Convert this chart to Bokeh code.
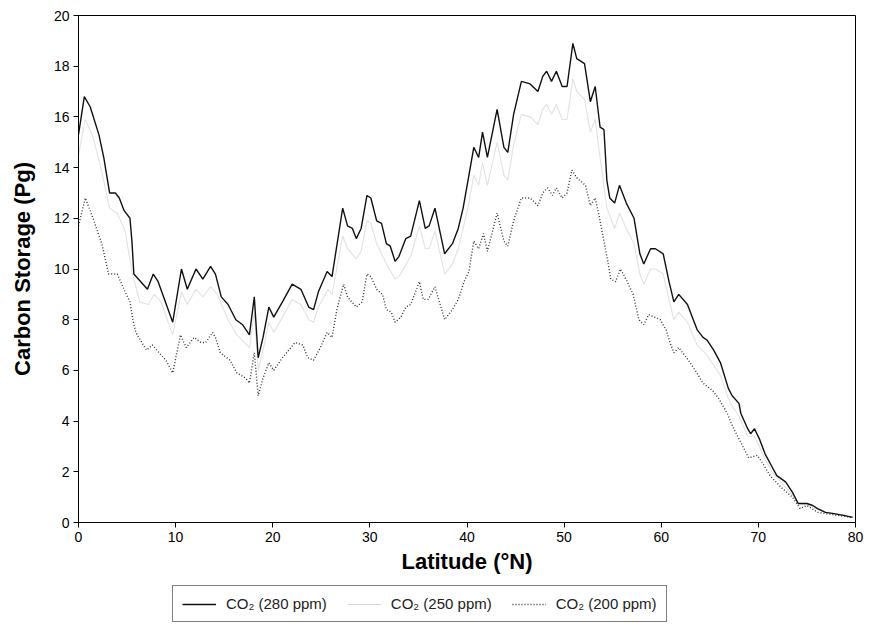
from bokeh.plotting import figure
from bokeh.models import Range1d, FixedTicker, Legend, LegendItem
from bokeh.layouts import column
from bokeh.embed import file_html
from bokeh.resources import INLINE

lat_280 = [0, 0.6, 1.2, 2.1, 2.6, 3.2, 3.8, 4.2, 4.7, 5.3, 5.5, 5.7, 7.1, 7.7, 8.2, 9.7, 10.6, 11.2, 12.1, 12.8,
           13.6, 14.1, 14.7, 15.4, 16.2, 16.9, 17.6, 18.1, 18.5, 19.0, 19.6, 20.1, 21.0, 22.0, 22.9, 23.7, 24.2, 24.7, 25.6, 26.1,
           27.2, 27.7, 28.2, 28.6, 29.1, 29.7, 30.1, 30.7, 31.2, 31.7, 32.1, 32.6, 33.0, 33.7, 34.2, 35.1, 35.7, 36.1, 36.7, 37.7,
           38.5, 39.1, 39.6, 40.2, 40.7, 41.2, 41.6, 42.1, 43.1, 43.8, 44.2, 44.8, 45.6, 46.5, 47.3, 47.8, 48.2, 48.7, 49.2, 49.8,
           50.3, 50.9, 51.3, 52.1, 52.7, 53.2, 53.7, 54.1, 54.4, 54.7, 55.2, 55.7, 56.4, 57.2, 57.8, 58.2, 58.9, 59.4, 60.2, 60.8,
           61.3, 61.8, 62.7, 63.3, 63.7, 64.3, 64.7, 65.4, 66.1, 66.9, 67.3, 68.0, 68.2, 68.9, 69.2, 69.6, 70.1, 70.7, 71.4, 71.9,
           72.8, 73.5, 74.1, 75.0, 75.6, 76.1, 76.9, 77.8, 78.8, 79.7]
c280 = [15.3, 16.8, 16.4, 15.3, 14.4, 13.0, 13.0, 12.8, 12.3, 12.0, 11.1, 9.8, 9.2, 9.8, 9.5, 7.9, 10.0, 9.2, 10.0, 9.6,
        10.1, 9.8, 8.9, 8.6, 8.0, 7.8, 7.4, 8.9, 6.5, 7.3, 8.5, 8.1, 8.7, 9.4, 9.2, 8.5, 8.4, 9.1, 9.9, 9.7,
        12.4, 11.7, 11.6, 11.2, 11.6, 12.9, 12.8, 11.9, 11.8, 11.0, 10.9, 10.3, 10.5, 11.2, 11.3, 12.7, 11.6, 11.7, 12.4, 10.6,
        11.0, 11.6, 12.4, 13.7, 14.8, 14.4, 15.4, 14.4, 16.3, 14.8, 14.6, 16.1, 17.4, 17.3, 17.0, 17.6, 17.8, 17.4, 17.8, 17.2,
        17.2, 18.9, 18.3, 18.1, 16.6, 17.2, 15.6, 15.5, 13.5, 12.8, 12.6, 13.3, 12.6, 12.0, 10.6, 10.2, 10.8, 10.8, 10.6, 9.5,
        8.7, 9.0, 8.6, 8.0, 7.6, 7.3, 7.2, 6.8, 6.3, 5.3, 5.0, 4.7, 4.3, 3.7, 3.5, 3.7, 3.3, 2.7, 2.2, 1.85,
        1.6, 1.2, 0.75, 0.75, 0.67, 0.55, 0.4, 0.35, 0.28, 0.2]

lat_250 = [0, 0.7, 1.5, 2.3, 3.2, 4.0, 4.8, 5.5, 6.3, 7.2, 7.8, 8.5, 9.7, 10.6, 11.2, 12.1, 12.8, 13.6, 14.3, 15.4,
           16.3, 17.6, 18.1, 18.5, 19.0, 19.6, 20.1, 21.0, 22.0, 22.9, 23.7, 24.2, 24.7, 25.7, 26.1, 27.2, 27.7, 28.6, 29.1, 29.7,
           30.1, 30.7, 31.7, 32.6, 33.0, 34.2, 35.1, 35.7, 36.1, 36.7, 37.7, 38.5, 39.1, 39.6, 40.2, 40.7, 41.2, 41.6, 42.1, 43.1,
           43.8, 44.2, 44.8, 45.6, 46.5, 47.3, 47.8, 48.2, 48.7, 49.2, 49.8, 50.3, 50.9, 51.3, 52.1, 52.7, 53.2, 53.7, 54.4, 55.2,
           55.7, 56.4, 57.2, 57.8, 58.2, 58.9, 59.4, 60.2, 60.8, 61.3, 61.8, 62.7, 63.7, 64.7, 65.4, 66.1, 66.9, 67.3, 68.0, 68.9,
           69.6, 70.1, 70.7, 71.4, 72.3, 73.5, 74.1, 75.0, 76.1, 77.8, 79.7]
c250 = [14.5, 15.9, 15.2, 14.0, 12.4, 12.2, 11.5, 9.9, 8.7, 8.6, 9.0, 8.7, 7.4, 9.1, 8.6, 9.2, 8.9, 9.3, 9.0, 8.0,
        7.4, 6.9, 8.3, 6.0, 6.8, 7.9, 7.5, 8.1, 8.8, 8.6, 8.0, 7.9, 8.5, 9.2, 9.0, 11.3, 10.8, 10.4, 10.7, 11.9,
        11.8, 11.0, 10.2, 9.6, 9.7, 10.5, 11.7, 10.8, 10.8, 11.5, 9.8, 10.2, 10.8, 11.6, 12.6, 13.7, 13.3, 14.2, 13.3, 15.0,
        13.7, 13.5, 14.9, 16.1, 16.0, 15.7, 16.3, 16.5, 16.1, 16.5, 15.9, 15.9, 17.5, 17.0, 16.7, 15.4, 15.9, 14.4, 12.4, 11.6,
        12.2, 11.6, 11.0, 9.8, 9.4, 10.0, 10.0, 9.8, 8.8, 8.0, 8.3, 7.9, 7.0, 6.6, 6.2, 5.8, 4.9, 4.6, 4.2, 3.4,
        3.4, 3.0, 2.5, 2.0, 1.6, 1.1, 0.7, 0.7, 0.5, 0.33, 0.2]

lat_200 = [0, 0.7, 1.5, 2.4, 3.1, 4.0, 4.8, 5.3, 5.6, 5.9, 6.2, 7.0, 7.6, 8.3, 9.0, 9.7, 10.5, 11.1, 11.9, 12.6,
           13.1, 13.8, 14.1, 14.6, 15.6, 16.3, 17.2, 17.6, 18.1, 18.5, 19.0, 19.6, 20.1, 21.0, 22.3, 23.1, 23.6, 24.2, 24.9, 25.6,
           26.1, 26.6, 27.3, 27.7, 28.6, 29.2, 29.7, 30.1, 30.7, 31.3, 31.7, 32.2, 32.6, 33.2, 33.7, 34.2, 35.1, 35.5, 36.0, 36.7,
           37.7, 38.5, 39.1, 39.7, 40.2, 40.7, 41.2, 41.7, 42.1, 43.1, 43.8, 44.2, 44.8, 45.6, 46.5, 47.3, 47.8, 48.3, 48.8, 49.2,
           49.8, 50.3, 50.8, 51.3, 52.2, 52.7, 53.2, 53.6, 54.5, 54.8, 55.3, 55.8, 56.5, 57.1, 57.7, 58.2, 58.7, 59.9, 60.5, 60.9,
           61.3, 61.8, 62.8, 63.5, 64.3, 65.3, 65.9, 66.8, 67.4, 68.4, 69.0, 69.9, 70.5, 71.2, 72.3, 73.5, 74.3, 75.0, 76.1, 77.8,
           79.7]
c200 = [11.7, 12.8, 12.0, 11.0, 9.8, 9.8, 9.1, 8.7, 8.0, 7.5, 7.3, 6.8, 7.0, 6.7, 6.4, 5.9, 7.4, 6.9, 7.3, 7.1,
        7.1, 7.5, 7.3, 6.7, 6.4, 5.9, 5.7, 5.5, 6.7, 5.0, 5.7, 6.3, 6.0, 6.5, 7.1, 7.0, 6.5, 6.4, 6.9, 7.5,
        7.3, 8.4, 9.4, 8.9, 8.5, 8.7, 9.8, 9.7, 9.2, 9.0, 8.4, 8.3, 7.9, 8.1, 8.5, 8.6, 9.5, 8.8, 8.8, 9.3,
        8.0, 8.4, 8.8, 9.5, 9.9, 11.1, 10.8, 11.4, 10.7, 12.2, 11.1, 10.9, 11.9, 12.8, 12.8, 12.5, 13.0, 13.2, 12.9, 13.2,
        12.8, 13.0, 13.9, 13.6, 13.3, 12.5, 12.8, 12.1, 10.3, 9.6, 9.5, 10.0, 9.5, 9.0, 8.0, 7.8, 8.2, 8.0, 7.6, 7.1,
        6.7, 6.9, 6.4, 6.0, 5.5, 5.2, 4.9, 4.3, 3.75, 3.0, 2.55, 2.65, 2.3, 1.85, 1.4, 1.0, 0.55, 0.67, 0.4, 0.3,
        0.2]

labels = ["CO\u2082 (280 ppm)", "CO\u2082 (250 ppm)", "CO\u2082 (200 ppm)"]
x_ticks = [0, 10, 20, 30, 40, 50, 60, 70, 80]
y_ticks = [0, 2, 4, 6, 8, 10, 12, 14, 16, 18, 20]

FONT = "Liberation Sans"
STYLES = [dict(line_color="#111111", line_width=1.4),
          dict(line_color="#d6d6d6", line_width=1.1),
          dict(line_color="#333333", line_width=1.4, line_dash="1 2")]

p = figure(width=874, height=580, output_backend="svg", toolbar_location=None,
           x_range=Range1d(0, 80), y_range=Range1d(0, 20),
           min_border_left=78, min_border_right=19, min_border_top=15, min_border_bottom=58)
p.grid.visible = False
p.outline_line_color = "black"
p.outline_line_width = 1
p.background_fill_color = "white"
p.border_fill_color = "white"

p.line(lat_250, c250, line_color="#e2e2e2", line_width=1.1)
p.line(lat_200, c200, **STYLES[2])
p.line(lat_280, c280, **STYLES[0])

for ax in (p.xaxis[0], p.yaxis[0]):
    ax.axis_line_color = "black"
    ax.major_tick_line_color = "black"
    ax.minor_tick_line_color = None
    ax.major_tick_in = 0
    ax.major_tick_out = 5
    ax.major_label_text_font = FONT
    ax.major_label_text_font_size = "14px"
    ax.major_label_text_color = "black"
    ax.axis_label_text_font = FONT
    ax.axis_label_text_font_style = "bold"
    ax.axis_label_text_color = "black"

p.xaxis[0].ticker = FixedTicker(ticks=x_ticks)
p.yaxis[0].ticker = FixedTicker(ticks=y_ticks)
p.xaxis[0].axis_label = "Latitude (\u00b0N)"
p.yaxis[0].axis_label = "Carbon Storage (Pg)"
p.xaxis[0].axis_label_text_font_size = "22px"
p.yaxis[0].axis_label_text_font_size = "22px"
p.xaxis[0].axis_label_standoff = 4
p.yaxis[0].axis_label_standoff = 16
p.xaxis[0].major_label_standoff = 4
p.yaxis[0].major_label_standoff = 4

# legend panel below the chart (sample lines lie outside the visible range)
q = figure(width=874, height=49, output_backend="svg", toolbar_location=None,
           x_range=Range1d(0, 1), y_range=Range1d(0, 1),
           min_border_left=0, min_border_right=0, min_border_top=0, min_border_bottom=0)
q.axis.visible = False
q.grid.visible = False
q.outline_line_color = None
q.border_fill_color = "white"
q.background_fill_color = "white"
lr = [q.line([5, 6], [5, 5], **s) for s in STYLES]

legend = Legend(items=[LegendItem(label=labels[i], renderers=[lr[i]]) for i in range(3)],
                orientation="horizontal", location=(94, 7))
legend.label_text_font = FONT
legend.label_text_font_size = "15px"
legend.label_text_color = "#222222"
legend.glyph_width = 34
legend.glyph_height = 14
legend.label_standoff = 10
legend.spacing = 20
legend.padding = 9
legend.margin = 0
legend.border_line_color = "black"
legend.border_line_width = 1
legend.background_fill_color = "white"
legend.background_fill_alpha = 1.0
q.add_layout(legend, "center")

layout = column(p, q, spacing=0)
open("out.html", "w").write(file_html(layout, INLINE))
